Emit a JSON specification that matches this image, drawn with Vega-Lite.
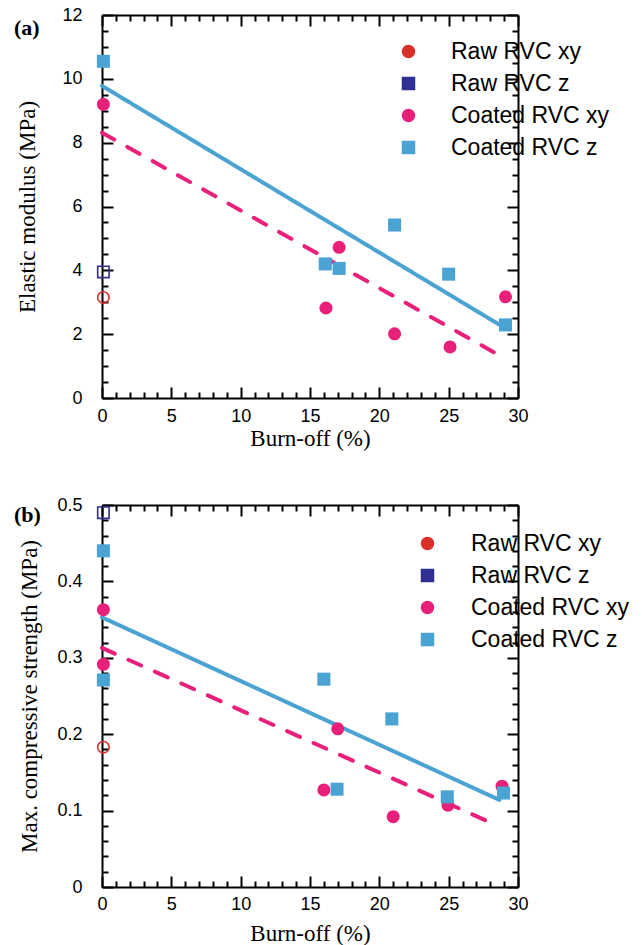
{
  "$schema": "https://vega.github.io/schema/vega-lite/v6.json",
  "padding": {"left": 14, "top": 6, "right": 0, "bottom": 0},
  "spacing": 46,
  "resolve": {"scale": {"color": "independent", "shape": "independent", "strokeDash": "independent"}, "legend": {"color": "independent"}},
  "datasets": {
    "a_pts": [
      {"series": "Raw RVC xy", "burnoff": 0.1, "value": 3.15},
      {"series": "Raw RVC z", "burnoff": 0.1, "value": 3.95},
      {"series": "Coated RVC xy", "burnoff": 0.1, "value": 9.2},
      {"series": "Coated RVC xy", "burnoff": 16.15, "value": 2.82},
      {"series": "Coated RVC xy", "burnoff": 17.1, "value": 4.72},
      {"series": "Coated RVC xy", "burnoff": 21.1, "value": 2.01},
      {"series": "Coated RVC xy", "burnoff": 25.1, "value": 1.6},
      {"series": "Coated RVC xy", "burnoff": 29.1, "value": 3.17},
      {"series": "Coated RVC z", "burnoff": 0.1, "value": 10.55},
      {"series": "Coated RVC z", "burnoff": 16.1, "value": 4.2},
      {"series": "Coated RVC z", "burnoff": 17.1, "value": 4.06},
      {"series": "Coated RVC z", "burnoff": 21.1, "value": 5.42},
      {"series": "Coated RVC z", "burnoff": 25.0, "value": 3.88},
      {"series": "Coated RVC z", "burnoff": 29.1, "value": 2.29}
    ],
    "a_lines": [
      {"series": "Coated RVC xy", "burnoff": 0, "value": 8.31},
      {"series": "Coated RVC xy", "burnoff": 28.4, "value": 1.4},
      {"series": "Coated RVC z", "burnoff": 0, "value": 9.78},
      {"series": "Coated RVC z", "burnoff": 28.8, "value": 2.26}
    ],
    "b_pts": [
      {"series": "Raw RVC xy", "burnoff": 0.1, "value": 0.183},
      {"series": "Raw RVC z", "burnoff": 0.1, "value": 0.49},
      {"series": "Coated RVC xy", "burnoff": 0.1, "value": 0.363},
      {"series": "Coated RVC xy", "burnoff": 0.1, "value": 0.2915},
      {"series": "Coated RVC xy", "burnoff": 16.0, "value": 0.127},
      {"series": "Coated RVC xy", "burnoff": 17.0, "value": 0.207},
      {"series": "Coated RVC xy", "burnoff": 21.0, "value": 0.092},
      {"series": "Coated RVC xy", "burnoff": 24.95, "value": 0.107},
      {"series": "Coated RVC xy", "burnoff": 28.85, "value": 0.132},
      {"series": "Coated RVC z", "burnoff": 0.1, "value": 0.44},
      {"series": "Coated RVC z", "burnoff": 0.1, "value": 0.271},
      {"series": "Coated RVC z", "burnoff": 16.0, "value": 0.272},
      {"series": "Coated RVC z", "burnoff": 16.95, "value": 0.128},
      {"series": "Coated RVC z", "burnoff": 20.9, "value": 0.22},
      {"series": "Coated RVC z", "burnoff": 24.9, "value": 0.118},
      {"series": "Coated RVC z", "burnoff": 28.95, "value": 0.123}
    ],
    "b_lines": [
      {"series": "Coated RVC xy", "burnoff": 0, "value": 0.313},
      {"series": "Coated RVC xy", "burnoff": 28.18, "value": 0.083},
      {"series": "Coated RVC z", "burnoff": 0, "value": 0.353},
      {"series": "Coated RVC z", "burnoff": 28.66, "value": 0.114}
    ]
  },
  "vconcat": [
    {
      "width": 416,
      "height": 383,
      "title": {"text": "(a)", "dx": -88, "offset": -51, "baseline": "alphabetic"},
      "resolve": {"axis": {"x": "independent", "y": "independent"}},
      "layer": [
        {
          "data": {"name": "a_lines"},
          "mark": {"type": "line", "strokeWidth": 4, "strokeCap": "round", "clip": false},
          "encoding": {
            "x": {"field": "burnoff", "type": "quantitative", "scale": {"domain": [0, 30], "nice": false, "zero": false},
              "axis": {"orient": "bottom", "values": [0,1,2,3,4,5,6,7,8,9,10,11,12,13,14,15,16,17,18,19,20,21,22,23,24,25,26,27,28,29,30],
                "labelExpr": "datum.value % 5 === 0 ? format(datum.value, '~g') : ''",
                "tickSize": {"condition": {"test": "datum.value % 5 === 0", "value": -11}, "value": -6},
                "labelPadding": 20, "title": "Burn-off (%)", "titlePadding": -3}},
            "y": {"field": "value", "type": "quantitative", "scale": {"domain": [0, 12], "nice": false, "zero": false},
              "axis": {"orient": "left", "values": [0,0.5,1,1.5,2,2.5,3,3.5,4,4.5,5,5.5,6,6.5,7,7.5,8,8.5,9,9.5,10,10.5,11,11.5,12],
                "labelExpr": "datum.value % 2 === 0 ? format(datum.value, '~g') : ''",
                "tickSize": {"condition": {"test": "datum.value % 2 === 0", "value": -11}, "value": -6},
                "labelPadding": 31, "title": "Elastic modulus (MPa)", "titlePadding": 22}},
            "color": {"field": "series", "type": "nominal",
              "scale": {"domain": ["Raw RVC xy", "Raw RVC z", "Coated RVC xy", "Coated RVC z"], "range": ["#d9302a", "#2e3192", "#e8207a", "#4ba3d4"]},
              "legend": {"title": null, "orient": "none", "legendX": 295, "legendY": 25, "padding": 0, "symbolSize": 144, "labelOffset": 31, "rowPadding": 8, "labelFont": "Liberation Sans", "labelFontSize": 23, "labelLimit": 400}},
            "strokeDash": {"field": "series", "type": "nominal", "scale": {"domain": ["Coated RVC xy", "Coated RVC z"], "range": [[14, 15], [1, 0]]}, "legend": null}
          }
        },
        {
          "data": {"name": "a_pts"},
          "transform": [{"filter": "indexof(datum.series, 'Raw') === 0"}],
          "mark": {"type": "point", "filled": false, "size": 130, "strokeWidth": 1.6, "opacity": 1, "clip": false},
          "encoding": {
            "x": {"field": "burnoff", "type": "quantitative", "scale": {"domain": [0, 30], "nice": false, "zero": false},
              "axis": {"orient": "top", "values": [0,1,2,3,4,5,6,7,8,9,10,11,12,13,14,15,16,17,18,19,20,21,22,23,24,25,26,27,28,29,30], "labels": false, "title": null,
                "tickSize": {"condition": {"test": "datum.value % 5 === 0", "value": -11}, "value": -6}}},
            "y": {"field": "value", "type": "quantitative", "scale": {"domain": [0, 12], "nice": false, "zero": false},
              "axis": {"orient": "right", "values": [0,0.5,1,1.5,2,2.5,3,3.5,4,4.5,5,5.5,6,6.5,7,7.5,8,8.5,9,9.5,10,10.5,11,11.5,12], "labels": false, "title": null,
                "tickSize": {"condition": {"test": "datum.value % 2 === 0", "value": -11}, "value": -6}}},
            "color": {"field": "series", "type": "nominal",
              "scale": {"domain": ["Raw RVC xy", "Raw RVC z", "Coated RVC xy", "Coated RVC z"], "range": ["#d9302a", "#2e3192", "#e8207a", "#4ba3d4"]}},
            "shape": {"field": "series", "type": "nominal", "scale": {"domain": ["Raw RVC xy", "Raw RVC z", "Coated RVC xy", "Coated RVC z"], "range": ["circle", "square", "circle", "square"]}, "legend": null}
          }
        },
        {
          "data": {"name": "a_pts"},
          "transform": [{"filter": "indexof(datum.series, 'Coated') === 0"}],
          "mark": {"type": "point", "filled": true, "size": 170, "opacity": 1, "clip": false},
          "encoding": {
            "x": {"field": "burnoff", "type": "quantitative", "scale": {"domain": [0, 30], "nice": false, "zero": false}, "axis": null},
            "y": {"field": "value", "type": "quantitative", "scale": {"domain": [0, 12], "nice": false, "zero": false}, "axis": null},
            "color": {"field": "series", "type": "nominal",
              "scale": {"domain": ["Raw RVC xy", "Raw RVC z", "Coated RVC xy", "Coated RVC z"], "range": ["#d9302a", "#2e3192", "#e8207a", "#4ba3d4"]}},
            "shape": {"field": "series", "type": "nominal", "scale": {"domain": ["Raw RVC xy", "Raw RVC z", "Coated RVC xy", "Coated RVC z"], "range": ["circle", "square", "circle", "square"]}, "legend": null}
          }
        }
      ]
    },
    {
      "width": 416,
      "height": 382,
      "title": {"text": "(b)", "dx": -88, "offset": -48, "baseline": "alphabetic"},
      "resolve": {"axis": {"x": "independent", "y": "independent"}},
      "layer": [
        {
          "data": {"name": "b_lines"},
          "mark": {"type": "line", "strokeWidth": 4, "strokeCap": "round", "clip": false},
          "encoding": {
            "x": {"field": "burnoff", "type": "quantitative", "scale": {"domain": [0, 30], "nice": false, "zero": false},
              "axis": {"orient": "bottom", "values": [0,1,2,3,4,5,6,7,8,9,10,11,12,13,14,15,16,17,18,19,20,21,22,23,24,25,26,27,28,29,30],
                "labelExpr": "datum.value % 5 === 0 ? format(datum.value, '~g') : ''",
                "tickSize": {"condition": {"test": "datum.value % 5 === 0", "value": -11}, "value": -6},
                "labelPadding": 19, "title": "Burn-off (%)", "titlePadding": 4}},
            "y": {"field": "value", "type": "quantitative", "scale": {"domain": [0, 0.5], "nice": false, "zero": false},
              "axis": {"orient": "left", "values": [0,0.02,0.04,0.06,0.08,0.1,0.12,0.14,0.16,0.18,0.2,0.22,0.24,0.26,0.28,0.3,0.32,0.34,0.36,0.38,0.4,0.42,0.44,0.46,0.48,0.5],
                "labelExpr": "round(datum.value*100) % 10 === 0 ? format(datum.value, '~g') : ''",
                "tickSize": {"condition": {"test": "round(datum.value*100) % 10 === 0", "value": -11}, "value": -6},
                "labelPadding": 31, "title": "Max. compressive strength (MPa)", "titlePadding": 15}},
            "color": {"field": "series", "type": "nominal",
              "scale": {"domain": ["Raw RVC xy", "Raw RVC z", "Coated RVC xy", "Coated RVC z"], "range": ["#d9302a", "#2e3192", "#e8207a", "#4ba3d4"]},
              "legend": {"title": null, "orient": "none", "legendX": 314, "legendY": 27, "padding": 0, "symbolSize": 144, "labelOffset": 32, "rowPadding": 8, "labelFont": "Liberation Sans", "labelFontSize": 23, "labelLimit": 400}},
            "strokeDash": {"field": "series", "type": "nominal", "scale": {"domain": ["Coated RVC xy", "Coated RVC z"], "range": [[14, 15], [1, 0]]}, "legend": null}
          }
        },
        {
          "data": {"name": "b_pts"},
          "transform": [{"filter": "indexof(datum.series, 'Raw') === 0"}],
          "mark": {"type": "point", "filled": false, "size": 130, "strokeWidth": 1.6, "opacity": 1, "clip": false},
          "encoding": {
            "x": {"field": "burnoff", "type": "quantitative", "scale": {"domain": [0, 30], "nice": false, "zero": false},
              "axis": {"orient": "top", "values": [0,1,2,3,4,5,6,7,8,9,10,11,12,13,14,15,16,17,18,19,20,21,22,23,24,25,26,27,28,29,30], "labels": false, "title": null,
                "tickSize": {"condition": {"test": "datum.value % 5 === 0", "value": -11}, "value": -6}}},
            "y": {"field": "value", "type": "quantitative", "scale": {"domain": [0, 0.5], "nice": false, "zero": false},
              "axis": {"orient": "right", "values": [0,0.02,0.04,0.06,0.08,0.1,0.12,0.14,0.16,0.18,0.2,0.22,0.24,0.26,0.28,0.3,0.32,0.34,0.36,0.38,0.4,0.42,0.44,0.46,0.48,0.5], "labels": false, "title": null,
                "tickSize": {"condition": {"test": "round(datum.value*100) % 10 === 0", "value": -11}, "value": -6}}},
            "color": {"field": "series", "type": "nominal",
              "scale": {"domain": ["Raw RVC xy", "Raw RVC z", "Coated RVC xy", "Coated RVC z"], "range": ["#d9302a", "#2e3192", "#e8207a", "#4ba3d4"]}},
            "shape": {"field": "series", "type": "nominal", "scale": {"domain": ["Raw RVC xy", "Raw RVC z", "Coated RVC xy", "Coated RVC z"], "range": ["circle", "square", "circle", "square"]}, "legend": null}
          }
        },
        {
          "data": {"name": "b_pts"},
          "transform": [{"filter": "indexof(datum.series, 'Coated') === 0"}],
          "mark": {"type": "point", "filled": true, "size": 170, "opacity": 1, "clip": false},
          "encoding": {
            "x": {"field": "burnoff", "type": "quantitative", "scale": {"domain": [0, 30], "nice": false, "zero": false}, "axis": null},
            "y": {"field": "value", "type": "quantitative", "scale": {"domain": [0, 0.5], "nice": false, "zero": false}, "axis": null},
            "color": {"field": "series", "type": "nominal",
              "scale": {"domain": ["Raw RVC xy", "Raw RVC z", "Coated RVC xy", "Coated RVC z"], "range": ["#d9302a", "#2e3192", "#e8207a", "#4ba3d4"]}},
            "shape": {"field": "series", "type": "nominal", "scale": {"domain": ["Raw RVC xy", "Raw RVC z", "Coated RVC xy", "Coated RVC z"], "range": ["circle", "square", "circle", "square"]}, "legend": null}
          }
        }
      ]
    }
  ],
  "config": {
    "font": "Liberation Sans",
    "view": {"stroke": null},
    "axis": {"grid": false, "domainColor": "black", "domainWidth": 2, "tickColor": "black", "tickWidth": 2, "labelFont": "Liberation Sans", "labelFontSize": 18, "labelColor": "black", "titleFont": "Liberation Serif", "titleFontSize": 23, "titleFontWeight": "normal", "titleColor": "black", "labelFlush": false, "labelOverlap": false},
    "title": {"font": "Liberation Serif", "fontSize": 22, "fontWeight": "bold", "color": "black", "anchor": "start", "frame": "group"}
  }
}
